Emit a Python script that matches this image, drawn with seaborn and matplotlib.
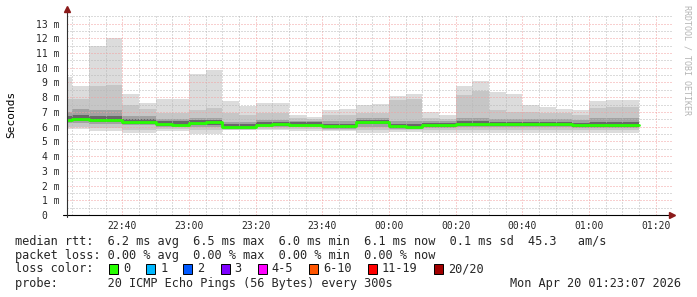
import matplotlib
matplotlib.use("Agg")
import matplotlib.pyplot as plt
from matplotlib.ticker import MultipleLocator, FixedLocator, FixedFormatter
from matplotlib.patches import Rectangle
import pandas as pd
import seaborn as sns

# ---------------- data (times in minutes after 22:00, rtt in ms) ----------------
bin_edges = [23.4] + list(range(25, 196, 5))  # 35 bins of 5 minutes
ping_max = [9.35, 8.76, 11.5, 12.0, 8.2, 7.62, 7.9, 7.9, 9.57, 9.86, 7.76, 7.42,
            7.6, 7.6, 6.79, 6.63, 7.13, 7.2, 7.47, 7.54, 8.06, 8.21, 6.99, 6.79,
            8.76, 9.1, 8.35, 8.2, 7.49, 7.35, 7.2, 7.13, 7.74, 7.8, 7.8]
ping_hi = [7.9, 7.88, 8.76, 8.85, 7.5, 7.2, 6.9, 6.9, 7.13, 7.24, 6.9, 6.8,
           6.9, 6.9, 6.6, 6.5, 6.79, 6.79, 6.9, 6.9, 7.8, 7.9, 6.6, 6.5,
           8.15, 8.44, 7.13, 7.0, 7.0, 6.9, 6.9, 6.8, 7.24, 7.31, 7.31]
ping_midhi = [7.0, 7.2, 7.1, 7.1, 6.7, 6.7, 6.5, 6.5, 6.6, 6.6, 6.3, 6.3,
              6.45, 6.45, 6.4, 6.4, 6.4, 6.4, 6.6, 6.6, 6.4, 6.4, 6.4, 6.4,
              6.6, 6.6, 6.5, 6.5, 6.5, 6.5, 6.5, 6.45, 6.6, 6.6, 6.6]
ping_corehi = [6.75, 6.8, 6.7, 6.7, 6.5, 6.5, 6.35, 6.35, 6.45, 6.45, 6.15, 6.15,
               6.3, 6.3, 6.3, 6.3, 6.2, 6.2, 6.45, 6.45, 6.2, 6.2, 6.25, 6.25,
               6.35, 6.35, 6.3, 6.3, 6.3, 6.3, 6.3, 6.25, 6.3, 6.3, 6.3]
median_rtt = [6.48, 6.50, 6.46, 6.44, 6.30, 6.30, 6.16, 6.13, 6.27, 6.30, 5.97, 5.96,
              6.12, 6.17, 6.12, 6.12, 6.02, 6.05, 6.30, 6.33, 6.03, 5.95, 6.09, 6.09,
              6.17, 6.18, 6.16, 6.16, 6.16, 6.16, 6.16, 6.08, 6.08, 6.08, 6.08]
ping_corelo = [6.35, 6.38, 6.33, 6.33, 6.2, 6.2, 6.05, 6.05, 6.12, 6.12, 5.9, 5.9,
               6.02, 6.02, 6.02, 6.02, 5.93, 5.93, 6.15, 6.15, 5.92, 5.9, 5.98, 5.98,
               6.05, 6.05, 6.05, 6.05, 6.05, 6.05, 6.05, 5.97, 5.97, 5.97, 5.97]
ping_midlo = [6.25, 6.25, 6.2, 6.2, 6.1, 6.1, 6.0, 6.0, 6.0, 6.0, 5.85, 5.85,
              5.95, 5.95, 5.95, 5.95, 5.85, 5.85, 6.0, 6.0, 5.85, 5.85, 5.9, 5.9,
              5.95, 5.95, 5.95, 5.95, 5.95, 5.95, 5.95, 5.9, 5.9, 5.9, 5.9]
ping_lo = [6.0, 6.0, 5.9, 5.9, 5.8, 5.8, 5.85, 5.85, 5.75, 5.75, 5.8, 5.8,
           5.85, 5.85, 5.85, 5.85, 5.75, 5.75, 5.75, 5.75, 5.75, 5.75, 5.75, 5.75,
           5.75, 5.75, 5.8, 5.8, 5.8, 5.8, 5.8, 5.8, 5.8, 5.8, 5.8]
ping_min = [5.85, 5.85, 5.7, 5.7, 5.6, 5.6, 5.72, 5.72, 5.5, 5.5, 5.77, 5.77,
            5.77, 5.77, 5.72, 5.72, 5.72, 5.72, 5.55, 5.55, 5.66, 5.66, 5.55, 5.55,
            5.55, 5.55, 5.6, 5.6, 5.6, 5.6, 5.58, 5.58, 5.6, 5.6, 5.6]

x_tick_pos = [40, 60, 80, 100, 120, 140, 160, 180, 200]
x_tick_labels = ["22:40", "23:00", "23:20", "23:40", "00:00", "00:20", "00:40", "01:00", "01:20"]
y_tick_vals = list(range(0, 14))
y_tick_labels = ["0  "] + [f"{v} m" for v in range(1, 14)]

loss_labels = ["0", "1", "2", "3", "4-5", "6-10", "11-19", "20/20"]
loss_colors = ["#26ff00", "#00b8ff", "#0059ff", "#7e00ff", "#ff00ff", "#ff5500", "#ff0000", "#a10000"]

median_line = "median rtt:  6.2 ms avg  6.5 ms max  6.0 ms min  6.1 ms now  0.1 ms sd  45.3   am/s"
loss_line = "packet loss: 0.00 % avg  0.00 % max  0.00 % min  0.00 % now"
probe_line = "probe:       20 ICMP Echo Pings (56 Bytes) every 300s"
date_text = "Mon Apr 20 01:23:07 2026"
ylabel_text = "Seconds"
watermark = "RRDTOOL / TOBI OETIKER"

# ---------------- figure ----------------
sns.set_style("white")
plt.rcParams["font.family"] = ["DejaVu Sans Mono"]
W, H = 697, 297
fig = plt.figure(figsize=(W / 100, H / 100), dpi=100)
fig.patch.set_facecolor("white")

L, R, T, B = 67, 672, 15, 215
ax = fig.add_axes([L / W, 1 - B / H, (R - L) / W, (B - T) / H])
ax.set_facecolor("white")
x0 = 23.4
ax.set_xlim(x0, x0 + (R - L) / 3.3335)
ax.set_ylim(0, 13.58)

# smoke layers
ax.stairs(ping_max, bin_edges, baseline=ping_min, fill=True, color="#dcdcdc", lw=0, zorder=1)
ax.stairs(ping_hi, bin_edges, baseline=ping_lo, fill=True, color="#c6c6c6", lw=0, zorder=1.1)
ax.stairs(ping_midhi, bin_edges, baseline=ping_midlo, fill=True, color="#a2a2a2", lw=0, zorder=1.2)
ax.stairs(ping_corehi, bin_edges, baseline=ping_corelo, fill=True, color="#686868", lw=0, zorder=1.3)

# median line
df = pd.DataFrame({"t": bin_edges, "rtt": median_rtt + [median_rtt[-1]]})
sns.lineplot(data=df, x="t", y="rtt", ax=ax, drawstyle="steps-post",
             color="#26ff00", linewidth=2.0, zorder=3, sort=True)

# grid
ax.xaxis.set_major_locator(FixedLocator(x_tick_pos))
ax.xaxis.set_major_formatter(FixedFormatter(x_tick_labels))
ax.xaxis.set_minor_locator(MultipleLocator(5))
ax.yaxis.set_major_locator(FixedLocator(y_tick_vals))
ax.yaxis.set_major_formatter(FixedFormatter(y_tick_labels))
ax.yaxis.set_minor_locator(MultipleLocator(0.5))
ax.grid(which="minor", color="#b8b8b8", linestyle=(0, (1, 2)), linewidth=0.72)
ax.grid(which="major", color="#f2a0a0", linestyle=(0, (1, 2)), linewidth=0.72)
ax.set_axisbelow(False)

ax.tick_params(axis="both", which="both", direction="inout", color="#404040", width=0.7)
ax.tick_params(axis="both", which="major", length=3)
ax.tick_params(axis="both", which="minor", length=2)
ax.tick_params(axis="x", which="major", pad=3, labelsize=7)
ax.tick_params(axis="y", which="major", pad=4, labelsize=7)
for lab in ax.get_xticklabels() + ax.get_yticklabels():
    lab.set_family("DejaVu Sans Mono")

for s in ax.spines.values():
    s.set_visible(False)
ax.set_xlabel("")
ax.set_ylabel("")
try:
    ax.get_legend().remove()
except AttributeError:
    pass

# axis lines with arrows
ax.plot([-0.006, 1.0], [0, 0], transform=ax.transAxes, color="black", lw=0.8, clip_on=False, zorder=6)
ax.plot([0, 0], [-0.01, 1.03], transform=ax.transAxes, color="#303030", lw=0.8, clip_on=False, zorder=6)
ax.plot([1.0], [0], transform=ax.transAxes, marker=">", color="#8b1a1a", ms=4, clip_on=False, zorder=7)
ax.plot([0], [1.03], transform=ax.transAxes, marker="^", color="#8b1a1a", ms=4, clip_on=False, zorder=7)

# y label and watermark
fig.text(11 / W, 1 - 114 / H, ylabel_text, rotation=90, ha="center", va="center",
         fontsize=8, family="DejaVu Sans Mono", color="black")
fig.text(687 / W, 1 - 5 / H, watermark, rotation=270, ha="center", va="top",
         fontsize=6, family="DejaVu Sans Mono", color="#b4b4b4")

# legend area
fs = 8.6
cw = 7.17
fig.text(15 / W, 1 - 241 / H, median_line, ha="left", va="center", fontsize=fs, family="DejaVu Sans Mono")
fig.text(15 / W, 1 - 255 / H, loss_line, ha="left", va="center", fontsize=fs, family="DejaVu Sans Mono")
fig.text(15 / W, 1 - 269 / H, "loss color:", ha="left", va="center", fontsize=fs, family="DejaVu Sans Mono")
fig.text(15 / W, 1 - 283 / H, probe_line, ha="left", va="center", fontsize=fs, family="DejaVu Sans Mono")
fig.text(681 / W, 1 - 283 / H, date_text, ha="right", va="center", fontsize=fs, family="DejaVu Sans Mono")

xpos = 109
for lab, col in zip(loss_labels, loss_colors):
    fig.patches.append(Rectangle((xpos / W, 1 - 274 / H), 9 / W, 10 / H, transform=fig.transFigure,
                                 facecolor=col, edgecolor="black", linewidth=0.7))
    fig.text((xpos + 14) / W, 1 - 269 / H, lab, ha="left", va="center", fontsize=fs, family="DejaVu Sans Mono")
    xpos += 30 + cw * len(lab)

fig.savefig("out.png", dpi=100, facecolor="white")
